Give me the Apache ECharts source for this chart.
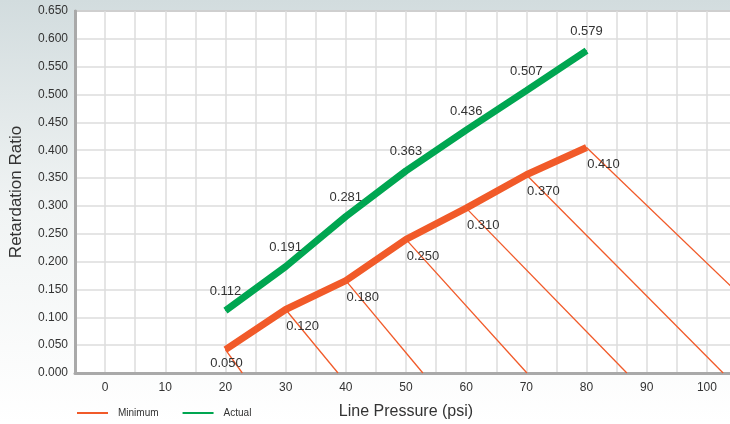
<!DOCTYPE html>
<html>
<head>
<meta charset="utf-8">
<script src="https://cdn.jsdelivr.net/npm/echarts@6/dist/echarts.min.js"></script>
<style>
html,body{margin:0;padding:0;}
#chart{width:730px;height:424px;}
</style>
</head>
<body>
<div id="chart"></div>
<script>
// ---- data ----
var pressures = [20, 30, 40, 50, 60, 70, 80];
var actualValues = [0.112, 0.191, 0.281, 0.363, 0.436, 0.507, 0.579];
var actualLabels = ['0.112', '0.191', '0.281', '0.363', '0.436', '0.507', '0.579'];
var minimumValues = [0.042, 0.114, 0.166, 0.240, 0.296, 0.356, 0.405];
var minimumLabels = ['0.050', '0.120', '0.180', '0.250', '0.310', '0.370', '0.410'];
var diagonalEnds = [22.8, 38.7, 52.8, 70.1, 86.7, 102.7, 119];
var xTicks = [0, 10, 20, 30, 40, 50, 60, 70, 80, 90, 100];

var RED = '#f15a29', GREEN = '#00a651';
var FONT = '"Liberation Sans", Arial, sans-serif';

var series = [];
pressures.forEach(function (p, i) {
  series.push({
    name: 'diag' + i, type: 'line', silent: true, symbol: 'none',
    lineStyle: { color: RED, width: 1.3 },
    data: [[p, minimumValues[i]], [diagonalEnds[i], 0]],
    z: 1
  });
});
series.push({
  name: 'Minimum', type: 'line', symbol: 'circle', symbolSize: 1, showSymbol: true,
  lineStyle: { color: RED, width: 7, cap: 'butt' },
  itemStyle: { color: RED },
  data: pressures.map(function (p, i) { return [p, minimumValues[i]]; }),
  label: {
    show: true, position: 'inside',
    formatter: function (d) { return minimumLabels[d.dataIndex]; },
    color: '#333', fontFamily: FONT, fontSize: 13
  },
  labelLayout: function (params) {
    if (params.dataIndex === 0) { return { dx: 1, dy: 14 }; }
    return { dx: 17, dy: 17 };
  },
  z: 3
});
series.push({
  name: 'Actual', type: 'line', symbol: 'circle', symbolSize: 1, showSymbol: true,
  lineStyle: { color: GREEN, width: 7, cap: 'butt' },
  itemStyle: { color: GREEN },
  data: pressures.map(function (p, i) { return [p, actualValues[i]]; }),
  label: {
    show: true, position: 'top', distance: 12,
    formatter: function (d) { return actualLabels[d.dataIndex]; },
    color: '#333', fontFamily: FONT, fontSize: 13
  },
  z: 3
});

var chart = echarts.init(document.getElementById('chart'));
chart.setOption({
  animation: false,
  backgroundColor: {
    type: 'linear', x: 0, y: 0, x2: 0, y2: 1,
    colorStops: [
      { offset: 0, color: '#d2dcde' },
      { offset: 0.5, color: '#f1f4f4' },
      { offset: 1, color: '#ffffff' }
    ]
  },
  grid: {
    left: 75, top: 11, right: -7, bottom: 51,
    outerBoundsMode: 'none', containLabel: false,
    show: true, backgroundColor: '#ffffff', borderColor: '#a9a9a9', borderWidth: 2
  },
  legend: {
    data: ['Minimum', 'Actual'],
    left: 72, top: 403,
    icon: 'rect', itemWidth: 31, itemHeight: 2, itemGap: 24,
    textStyle: { fontFamily: FONT, fontSize: 10, color: '#333', padding: [0, 0, 0, 5] }
  },
  xAxis: {
    type: 'value', min: -5, max: 105, interval: 5,
    name: 'Line Pressure (psi)', nameLocation: 'middle', nameGap: 31,
    nameTextStyle: { fontFamily: FONT, fontSize: 16, color: '#333' },
    axisLine: { show: true, onZero: false, lineStyle: { color: '#a9a9a9', width: 3 } },
    axisTick: { show: false },
    axisLabel: {
      margin: 9, fontFamily: FONT, fontSize: 12, color: '#333',
      formatter: function (v) { return xTicks.indexOf(v) >= 0 ? String(v) : ''; }
    },
    splitLine: { show: true, lineStyle: { color: '#dcdcdc', width: 1.5 } }
  },
  yAxis: {
    type: 'value', min: 0, max: 0.65, interval: 0.05,
    name: 'Retardation Ratio', nameLocation: 'middle', nameGap: 50,
    nameTextStyle: { fontFamily: FONT, fontSize: 17, color: '#333' },
    axisLine: { show: true, onZero: false, lineStyle: { color: '#a9a9a9', width: 3 } },
    axisTick: { show: false },
    axisLabel: {
      margin: 7, fontFamily: FONT, fontSize: 12, color: '#333',
      formatter: function (v) { return v.toFixed(3); }
    },
    splitLine: { show: true, lineStyle: { color: '#dcdcdc', width: 1.5 } }
  },
  series: series
});
</script>
</body>
</html>
